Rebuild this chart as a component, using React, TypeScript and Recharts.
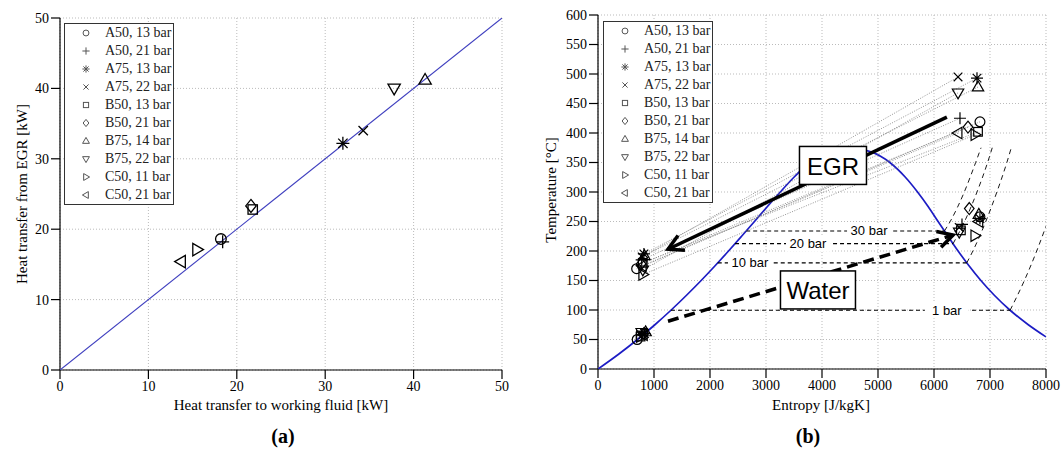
import React from 'react'
import {
  ScatterChart,
  Scatter,
  XAxis,
  YAxis,
  CartesianGrid,
  Legend,
  Label,
} from 'recharts'

const cases = [
  'A50, 13 bar',
  'A50, 21 bar',
  'A75, 13 bar',
  'A75, 22 bar',
  'B50, 13 bar',
  'B50, 21 bar',
  'B75, 14 bar',
  'B75, 22 bar',
  'C50, 11 bar',
  'C50, 21 bar',
]
const markers = ['circle', 'plus', 'star', 'cross', 'square', 'diamond', 'triUp', 'triDown', 'triRight', 'triLeft']

// (a) heat balance [kW]
const heatToFluid = [18.2, 18.4, 32.0, 34.3, 21.8, 21.6, 41.3, 37.8, 15.5, 13.7]
const heatFromEgr = [18.6, 18.2, 32.2, 34.0, 22.8, 23.3, 41.2, 40.0, 17.1, 15.4]
const parityKw = [0, 50]
const kwTicks = [0, 10, 20, 30, 40, 50]

// (b) T-s diagram
const entropyTicks = [0, 1000, 2000, 3000, 4000, 5000, 6000, 7000, 8000]
const tempTicks = [0, 50, 100, 150, 200, 250, 300, 350, 400, 450, 500, 550, 600]

// saturation dome of water
const domeS = [0, 367, 704, 1016, 1307, 1581, 1842, 2091, 2331, 2564, 2794, 3022, 3255, 3499, 3778, 3915, 4111, 4407,
  4800, 5053, 5211, 5489, 5706, 5898, 6073, 6250, 6430, 6625, 6837, 7077, 7354, 7684, 8000]
const domeT = [0, 25, 50, 75, 100, 125, 150, 175, 200, 225, 250, 275, 300, 325, 350, 360, 370, 374,
  370, 360, 350, 325, 300, 275, 250, 225, 200, 175, 150, 125, 100, 75, 54.4]

// EGR in / out, water in / out per case
const egrInS = [6821, 6464, 6768, 6429, 6786, 6607, 6786, 6429, 6732, 6429]
const egrInT = [419, 425, 493, 495, 402, 410, 478, 468, 397, 400]
const egrOutS = [690, 780, 820, 790, 800, 770, 830, 800, 800, 790]
const egrOutT = [170, 185, 195, 190, 180, 178, 192, 168, 160, 175]
const waterInS = [700, 780, 830, 800, 760, 820, 850, 780, 760, 810]
const waterInT = [50, 58, 60, 58, 55, 60, 63, 62, 55, 58]
const waterOutS = [6820, 6500, 6820, 6450, 6480, 6630, 6800, 6450, 6730, 6800]
const waterOutT = [258, 245, 255, 240, 235, 272, 262, 232, 226, 250]

// isobars
const isobarNames = ['30 bar', '20 bar', '10 bar', '1 bar']
const isobarTsat = [233.9, 212.4, 179.9, 99.6]
const isobarLiqS = [2646, 2447, 2138, 1303]
const isobarVapS = [6186, 6340, 6585, 7359]
const isobarLabelS = [4840, 3750, 2714, 6230]
const superS = [
  [6186, 6289, 6541, 6744, 6840],
  [6340, 6546, 6768, 6957, 7040],
  [6585, 6694, 6925, 7123, 7301, 7380],
  [7359, 7614, 7834, 8000],
]
const superT = [
  [233.9, 250, 300, 350, 375],
  [212.4, 250, 300, 350, 375],
  [179.9, 200, 250, 300, 350, 375],
  [99.6, 150, 200, 242],
]

// big arrows and boxes
const egrArrowS = [6230, 1250]
const egrArrowT = [427, 203]
const waterArrowS = [1250, 6340]
const waterArrowT = [81, 227]
const boxNames = ['EGR', 'Water']
const boxS = [4196, 3928]
const boxT = [345, 134]

const pts = (xs: number[], ys: number[]) => xs.map((x, i) => ({ x, y: ys[i] }))

const SERIF = '"Liberation Serif", "Times New Roman", serif'
const SANS = '"Liberation Sans", Arial, sans-serif'
// px per data unit in (b), used only to orient the arrow heads
const KX = 448 / 8000
const KY = 354 / 600

const Marker = ({ kind, cx, cy, r, stroke = '#000', sw = 1.2 }: any) => {
  const common = { fill: 'none', stroke, strokeWidth: sw }
  const k = r * 0.72
  switch (kind) {
    case 'circle':
      return <circle cx={cx} cy={cy} r={r * 0.82} {...common} />
    case 'plus':
      return <path d={`M${cx - r},${cy}H${cx + r}M${cx},${cy - r}V${cy + r}`} {...common} />
    case 'star':
      return (
        <path
          d={`M${cx - r},${cy}H${cx + r}M${cx},${cy - r}V${cy + r}M${cx - k},${cy - k}L${cx + k},${cy + k}M${cx - k},${cy + k}L${cx + k},${cy - k}`}
          {...common}
        />
      )
    case 'cross':
      return <path d={`M${cx - k},${cy - k}L${cx + k},${cy + k}M${cx - k},${cy + k}L${cx + k},${cy - k}`} {...common} />
    case 'square':
      return <rect x={cx - k} y={cy - k} width={2 * k} height={2 * k} {...common} />
    case 'diamond':
      return <path d={`M${cx},${cy - r}L${cx + r * 0.8},${cy}L${cx},${cy + r}L${cx - r * 0.8},${cy}Z`} {...common} />
    case 'triUp':
      return <path d={`M${cx},${cy - r}L${cx + r * 0.95},${cy + r * 0.65}L${cx - r * 0.95},${cy + r * 0.65}Z`} {...common} />
    case 'triDown':
      return <path d={`M${cx},${cy + r}L${cx + r * 0.95},${cy - r * 0.65}L${cx - r * 0.95},${cy - r * 0.65}Z`} {...common} />
    case 'triRight':
      return <path d={`M${cx + r},${cy}L${cx - r * 0.65},${cy - r * 0.95}L${cx - r * 0.65},${cy + r * 0.95}Z`} {...common} />
    case 'triLeft':
      return <path d={`M${cx - r},${cy}L${cx + r * 0.65},${cy - r * 0.95}L${cx + r * 0.65},${cy + r * 0.95}Z`} {...common} />
    default:
      return <g />
  }
}

const LegendBox = () => (
  <div
    style={{
      border: '1.5px solid #333',
      background: '#fff',
      fontFamily: SERIF,
      fontSize: 14,
      color: '#222',
      width: 108,
    }}
  >
    {cases.map((c, i) => (
      <div key={c} style={{ height: 18, display: 'flex', alignItems: 'center' }}>
        <svg width={40} height={18} style={{ flex: 'none' }}>
          <Marker kind={markers[i]} cx={21} cy={9} r={3.6} stroke="#555" sw={1} />
        </svg>
        <span style={{ whiteSpace: 'nowrap' }}>{c}</span>
      </div>
    ))}
  </div>
)

const noShape = () => <g />

const axisProps = {
  axisLine: { stroke: '#000', strokeWidth: 1.2 },
  tickLine: { stroke: '#000', strokeWidth: 1.2 },
  tickSize: 9,
  tickMargin: 2,
  tick: { fill: '#000', fontSize: 14, fontFamily: SERIF },
}

const ChartA = () => (
  <ScatterChart width={530} height={450} margin={{ top: 18, right: 28, bottom: 50, left: 0 }}>
    <CartesianGrid stroke="#bbb" strokeDasharray="1 2" />
    <XAxis
      type="number"
      dataKey="x"
      domain={[0, 50]}
      ticks={kwTicks}
      height={30}
      allowDataOverflow
      {...axisProps}
    >
      <Label
        content={() => (
          <g>
            <text x={281} y={410} textAnchor="middle" fontFamily={SERIF} fontSize={15} fill="#000">
              Heat transfer to working fluid [kW]
            </text>
            <text x={283} y={443} textAnchor="middle" fontFamily={SERIF} fontSize={20} fontWeight="bold" fill="#000">
              (a)
            </text>
          </g>
        )}
      />
    </XAxis>
    <YAxis
      type="number"
      dataKey="y"
      domain={[0, 50]}
      ticks={kwTicks}
      width={60}
      allowDataOverflow
      {...axisProps}
    >
      <Label
        content={() => (
          <text
            x={22}
            y={194}
            transform="rotate(-90 22 194)"
            textAnchor="middle"
            dominantBaseline="central"
            fontFamily={SERIF}
            fontSize={15}
            fill="#000"
          >
            Heat transfer from EGR [kW]
          </text>
        )}
      />
    </YAxis>
    <Scatter
      data={pts(parityKw, parityKw)}
      line={{ stroke: '#3f3fbf', strokeWidth: 1.1 }}
      shape={noShape}
      isAnimationActive={false}
    />
    {cases.map((c, i) => (
      <Scatter
        key={c}
        name={c}
        data={[{ x: heatToFluid[i], y: heatFromEgr[i] }]}
        shape={(p: any) => <Marker kind={markers[i]} cx={p.cx} cy={p.cy} r={6.5} sw={1.3} />}
        isAnimationActive={false}
      />
    ))}
    <Legend
      layout="vertical"
      align="center"
      verticalAlign="middle"
      wrapperStyle={{ left: 64, top: 23, width: 'auto' }}
      content={() => <LegendBox />}
    />
  </ScatterChart>
)

const arrowHead = (xs: number[], ys: number[]) => (p: any) => {
  if (p.payload.x !== xs[1]) return <g />
  const a = Math.atan2(-(ys[1] - ys[0]) * KY, (xs[1] - xs[0]) * KX)
  const L = 17
  const w = 0.5
  const x1 = p.cx - L * Math.cos(a - w)
  const y1 = p.cy - L * Math.sin(a - w)
  const x2 = p.cx - L * Math.cos(a + w)
  const y2 = p.cy - L * Math.sin(a + w)
  return <path d={`M${x1},${y1}L${p.cx},${p.cy}L${x2},${y2}`} fill="none" stroke="#000" strokeWidth={3.5} />
}

const ChartB = () => (
  <ScatterChart width={531} height={450} margin={{ top: 15, right: 15, bottom: 51, left: 0 }}>
    <CartesianGrid stroke="#bbb" strokeDasharray="1 2" />
    <XAxis
      type="number"
      dataKey="x"
      domain={[0, 8000]}
      ticks={entropyTicks}
      height={30}
      allowDataOverflow
      {...axisProps}
    >
      <Label
        content={() => (
          <g>
            <text x={291} y={410} textAnchor="middle" fontFamily={SERIF} fontSize={15} fill="#000">
              Entropy [J/kgK]
            </text>
            <text x={278} y={443} textAnchor="middle" fontFamily={SERIF} fontSize={20} fontWeight="bold" fill="#000">
              (b)
            </text>
          </g>
        )}
      />
    </XAxis>
    <YAxis
      type="number"
      dataKey="y"
      domain={[0, 600]}
      ticks={tempTicks}
      width={68}
      allowDataOverflow
      {...axisProps}
    >
      <Label
        content={() => (
          <text
            x={21}
            y={190}
            transform="rotate(-90 21 190)"
            textAnchor="middle"
            dominantBaseline="central"
            fontFamily={SERIF}
            fontSize={15}
            fill="#000"
          >
            Temperature [°C]
          </text>
        )}
      />
    </YAxis>

    {/* saturation dome */}
    <Scatter
      data={pts(domeS, domeT)}
      line={{ stroke: '#1c1cc4', strokeWidth: 1.7 }}
      lineJointType="monotoneX"
      shape={noShape}
      isAnimationActive={false}
    />

    {/* isobars */}
    {isobarNames.map((n, i) => (
      <Scatter
        key={n}
        data={pts([isobarLiqS[i], isobarVapS[i]], [isobarTsat[i], isobarTsat[i]])}
        line={{ stroke: '#000', strokeWidth: 1.2, strokeDasharray: '4 3' }}
        shape={noShape}
        isAnimationActive={false}
      />
    ))}
    {isobarNames.map((n, i) => (
      <Scatter
        key={'sh' + n}
        data={pts(superS[i], superT[i])}
        line={{ stroke: '#000', strokeWidth: 0.9, strokeDasharray: '5 4' }}
        lineJointType="monotoneX"
        shape={noShape}
        isAnimationActive={false}
      />
    ))}

    {/* EGR cooling paths */}
    {cases.map((c, i) => (
      <Scatter
        key={'egr' + c}
        data={pts([egrInS[i], egrOutS[i]], [egrInT[i], egrOutT[i]])}
        line={{ stroke: '#777', strokeWidth: 0.8, strokeDasharray: '1 1.5' }}
        shape={noShape}
        isAnimationActive={false}
      />
    ))}

    {/* big arrows */}
    <Scatter
      data={pts(egrArrowS, egrArrowT)}
      line={{ stroke: '#000', strokeWidth: 3.5 }}
      shape={arrowHead(egrArrowS, egrArrowT)}
      isAnimationActive={false}
    />
    <Scatter
      data={pts(waterArrowS, waterArrowT)}
      line={{ stroke: '#000', strokeWidth: 3.5, strokeDasharray: '11 6' }}
      shape={arrowHead(waterArrowS, waterArrowT)}
      isAnimationActive={false}
    />

    {/* isobar labels */}
    <Scatter
      data={isobarNames.map((n, i) => ({ x: isobarLabelS[i], y: isobarTsat[i], name: n }))}
      shape={(p: any) => (
        <g>
          <rect x={p.cx - 22} y={p.cy - 8} width={44} height={16} fill="#fff" />
          <text x={p.cx} y={p.cy} textAnchor="middle" dominantBaseline="central" fontFamily={SANS} fontSize={13} fill="#000">
            {p.payload.name}
          </text>
        </g>
      )}
      isAnimationActive={false}
    />

    {/* EGR / Water boxes */}
    <Scatter
      data={boxNames.map((n, i) => ({ x: boxS[i], y: boxT[i], name: n }))}
      shape={(p: any) => {
        const w = p.payload.name === 'EGR' ? 67 : 75
        return (
          <g>
            <rect x={p.cx - w / 2} y={p.cy - 19} width={w} height={38} fill="#fff" stroke="#000" strokeWidth={1.5} />
            <text x={p.cx} y={p.cy + 1} textAnchor="middle" dominantBaseline="central" fontFamily={SANS} fontSize={24} fill="#000">
              {p.payload.name}
            </text>
          </g>
        )
      }}
      isAnimationActive={false}
    />

    {/* state points */}
    {cases.map((c, i) => (
      <Scatter
        key={c}
        name={c}
        data={pts(
          [egrInS[i], egrOutS[i], waterInS[i], waterOutS[i]],
          [egrInT[i], egrOutT[i], waterInT[i], waterOutT[i]],
        )}
        shape={(p: any) => <Marker kind={markers[i]} cx={p.cx} cy={p.cy} r={6} sw={1.2} />}
        isAnimationActive={false}
      />
    ))}

    <Legend
      layout="vertical"
      align="center"
      verticalAlign="middle"
      wrapperStyle={{ left: 73, top: 21, width: 'auto' }}
      content={() => <LegendBox />}
    />
  </ScatterChart>
)

export default function App() {
  return (
    <div style={{ position: 'absolute', left: 0, top: 0, width: 1061, height: 450, background: '#fff' }}>
      <div style={{ position: 'absolute', left: 0, top: 0 }}>
        <ChartA />
      </div>
      <div style={{ position: 'absolute', left: 530, top: 0 }}>
        <ChartB />
      </div>
    </div>
  )
}
